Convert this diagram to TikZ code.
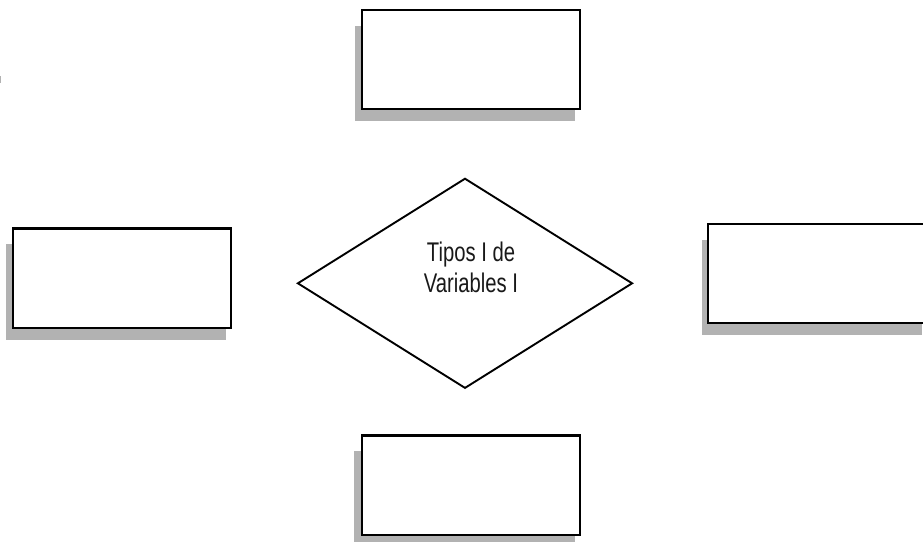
\documentclass[tikz,border=0pt]{standalone}
\usepackage{fontspec}
\setmainfont{Liberation Sans}
\usetikzlibrary{shapes.geometric}
\definecolor{shadowgray}{RGB}{178,178,178}
\tikzset{
  boxnode/.style={draw=black, line width=2.3pt, fill=white, minimum width=218pt, minimum height=99.5pt, inner sep=0pt},
  shadowfill/.style={fill=shadowgray, draw=none},
  dianode/.style={draw=black, line width=1.9pt, shape=diamond, minimum width=335pt, minimum height=210pt, inner sep=0pt},
  labeltext/.style={anchor=base, inner sep=0pt, text=black!90, font=\fontsize{27}{31}\selectfont}
}
\begin{document}
\begin{tikzpicture}[x=1pt, y=-1pt]
\useasboundingbox (0,0) rectangle (923,541);
% shadows
\fill[shadowfill] (355,26) rectangle (575,121);
\fill[shadowfill] (6,244) rectangle (226,340);
\fill[shadowfill] (702,239.5) rectangle (922,335);
\fill[shadowfill] (354,451) rectangle (574.5,547);
% boxes
\node[boxnode] (top) at (470.7,59.4) {};
\node[boxnode] (left) at (122.3,278.2) {};
\node[boxnode] (right) at (817.3,273.4) {};
\node[boxnode] (bottom) at (470.7,485.2) {};
% diamond
\node[dianode] (dia) at (465,283.3) {};
\node[labeltext] (l1) at (471,261.7) {\scalebox{0.75}[1]{Tipos I de}};
\node[labeltext] (l2) at (471,292.7) {\scalebox{0.75}[1]{Variables I}};
% small mark on left edge
\fill[shadowgray] (0,76) rectangle (1.2,83);
\end{tikzpicture}
\end{document}
